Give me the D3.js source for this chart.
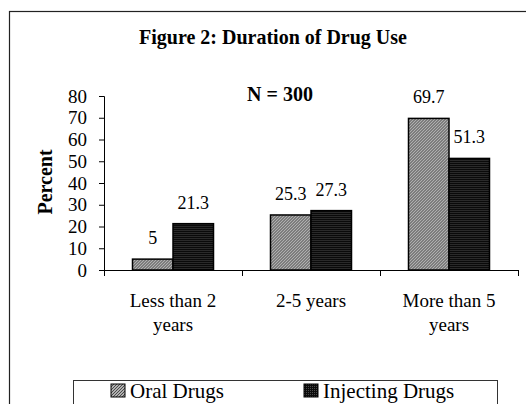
<!DOCTYPE html>
<html>
<head>
<meta charset="utf-8">
<script src="https://cdn.jsdelivr.net/npm/d3@7"></script>
<style>
  body { margin: 0; background: #fff; }
  svg { display: block; font-family: "Liberation Serif", "Times New Roman", serif; }
</style>
</head>
<body>
<svg id="svg" width="526" height="404"></svg>
<script>
var categories = ["Less than 2 years", "2-5 years", "More than 5 years"];
var seriesNames = ["Oral Drugs", "Injecting Drugs"];
var oralValues = [5, 25.3, 69.7];
var injectingValues = [21.3, 27.3, 51.3];
var yTicks = [0, 10, 20, 30, 40, 50, 60, 70, 80];

var svg = d3.select('#svg');
var margin = { top: 96, right: 8, bottom: 134, left: 104 };
var width = 526, height = 404;
var plotW = 518 - margin.left;
var plotH = 270 - margin.top;

var data = categories.map(function(c, i) {
    return { cat: c, values: [oralValues[i], injectingValues[i]] };
});

// patterns for the two fills
var defs = svg.append('defs');
var p1 = defs.append('pattern').attr('id', 'oral').attr('patternUnits', 'userSpaceOnUse')
    .attr('width', 3).attr('height', 3);
p1.append('rect').attr('width', 3).attr('height', 3).attr('fill', '#b0b0b0');
p1.append('path').attr('d', 'M0,3 L3,0 M-1,1 L1,-1 M2,4 L4,2').attr('stroke', '#4a4a4a').attr('stroke-width', 1);
var p2 = defs.append('pattern').attr('id', 'inj').attr('patternUnits', 'userSpaceOnUse')
    .attr('width', 2).attr('height', 2);
p2.append('rect').attr('width', 2).attr('height', 2).attr('fill', '#0a0a0a');
p2.append('rect').attr('width', 1).attr('height', 1).attr('fill', '#4a4a4a');
var fills = ['url(#oral)', 'url(#inj)'];

// outer frame
svg.append('rect').attr('x', 9.5).attr('y', 11.5).attr('width', 600).attr('height', 500)
    .attr('fill', 'none').attr('stroke', '#222').attr('stroke-width', 1.2);

svg.append('text').attr('x', 273).attr('y', 43.5).attr('text-anchor', 'middle')
    .style('font-weight', 'bold').style('font-size', '20px')
    .text('Figure 2: Duration of Drug Use');

svg.append('text').attr('x', 280).attr('y', 101).attr('text-anchor', 'middle')
    .style('font-weight', 'bold').style('font-size', '20px')
    .text('N = 300');

var g = svg.append('g').attr('transform', 'translate(' + margin.left + ',' + margin.top + ')');

var x0 = d3.scaleBand().domain(categories).range([0, plotW]);
var groupW = 81;
var x1 = d3.scaleBand().domain(seriesNames).range([0, groupW]);
var y = d3.scaleLinear().domain([0, 80]).range([plotH, 0]);

// y axis
var yAxis = g.append('g').call(d3.axisLeft(y).tickValues(yTicks).tickSize(5).tickPadding(12));
yAxis.select('.domain').attr('stroke', '#000');
yAxis.selectAll('text').style('font-size', '19px').style('font-family', 'Liberation Serif').attr('fill', '#000');

// x axis with ticks at the category boundaries
var xb = d3.scaleLinear().domain([0, categories.length]).range([0, plotW]);
var xAxis = g.append('g').attr('transform', 'translate(0,' + plotH + ')')
    .call(d3.axisBottom(xb).tickValues(d3.range(categories.length + 1)).tickFormat('').tickSize(6).tickSizeOuter(0));

// bars
var groups = g.selectAll('.grp').data(data).enter().append('g')
    .attr('transform', function(d) { return 'translate(' + (x0(d.cat) + (x0.bandwidth() - groupW) / 2) + ',0)'; });

groups.selectAll('rect').data(function(d) { return d.values.map(function(v, i) { return { s: seriesNames[i], v: v, i: i }; }); })
    .enter().append('rect')
    .attr('x', function(d) { return x1(d.s); })
    .attr('y', function(d) { return y(d.v); })
    .attr('width', x1.bandwidth())
    .attr('height', function(d) { return plotH - y(d.v); })
    .attr('fill', function(d) { return fills[d.i]; })
    .attr('stroke', '#000').attr('stroke-width', 1.5);

groups.selectAll('.lbl').data(function(d) { return d.values.map(function(v, i) { return { s: seriesNames[i], v: v }; }); })
    .enter().append('text')
    .attr('x', function(d) { return x1(d.s) + x1.bandwidth() / 2; })
    .attr('y', function(d) { return y(d.v) - 15; })
    .attr('text-anchor', 'middle').style('font-size', '18px')
    .text(function(d) { return d.v; });

// category labels, wrapped
var catText = g.selectAll('.cat').data(categories).enter().append('text')
    .attr('x', function(d) { return x0(d) + x0.bandwidth() / 2; })
    .attr('y', plotH + 37)
    .attr('text-anchor', 'middle').style('font-size', '19px');

catText.each(function(d) {
    var t = d3.select(this);
    var words = d.split(' ');
    var line = [];
    var lineNo = 0;
    var tspan = t.append('tspan').attr('x', t.attr('x')).attr('dy', 0);
    words.forEach(function(w) {
        line.push(w);
        tspan.text(line.join(' '));
        if (tspan.node().getComputedTextLength() > 115 && line.length > 1) {
            line.pop();
            tspan.text(line.join(' '));
            line = [w];
            lineNo++;
            tspan = t.append('tspan').attr('x', t.attr('x')).attr('dy', 24).text(w);
        }
    });
});

// y label
svg.append('text').attr('transform', 'translate(52,182) rotate(-90)')
    .attr('text-anchor', 'middle').style('font-weight', 'bold').style('font-size', '20px')
    .text('Percent');

// legend
svg.append('rect').attr('x', 73.5).attr('y', 380.5).attr('width', 424).attr('height', 60)
    .attr('fill', 'none').attr('stroke', '#333').attr('stroke-width', 1);
var legX = [111, 304];
var leg = svg.selectAll('.leg').data(seriesNames).enter().append('g')
    .attr('transform', function(d, i) { return 'translate(' + legX[i] + ',384)'; });
leg.append('rect').attr('width', 14).attr('height', 13)
    .attr('fill', function(d, i) { return fills[i]; })
    .attr('stroke', '#000').attr('stroke-width', 1);
leg.append('text').attr('x', 19).attr('y', 13.5).style('font-size', '21px').text(function(d) { return d; });
</script>
</body>
</html>
